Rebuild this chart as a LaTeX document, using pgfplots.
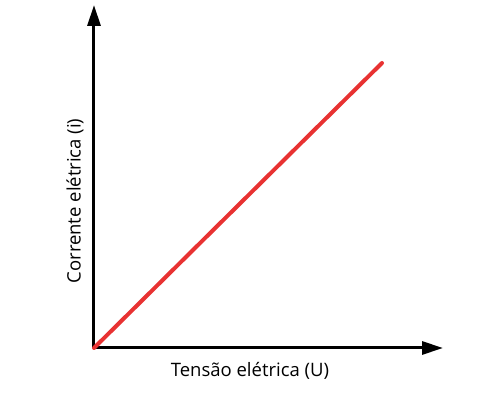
\documentclass[border=0pt]{standalone}
\usepackage{pgfplots}
\pgfplotsset{compat=1.18}
\usetikzlibrary{arrows.meta}
\usepackage{fontspec}
\setmainfont{Open Sans}
\begin{document}
\begin{tikzpicture}
\begin{axis}[
  at={(0,0)}, anchor=south west,
  scale only axis, width=349pt, height=343pt,
  xmin=0, xmax=349, ymin=0, ymax=343,
  axis lines=left,
  axis line style={line width=3pt, -{Triangle[length=21pt,width=13pt]}},
  xtick=\empty, ytick=\empty,
  clip=false,
  xlabel={Tensão elétrica (U)},
  ylabel={Corrente elétrica (i)},
  xlabel style={at={(axis cs:156,-23)}, anchor=center, font=\fontsize{18.5}{21}\selectfont},
  ylabel style={at={(axis cs:-19,147)}, anchor=center, rotate=0, font=\fontsize{18.5}{21}\selectfont},
]
\addplot[color={rgb,255:red,232;green,50;blue,50}, line width=4pt, line cap=round] coordinates {(0,0) (288,285)};
\end{axis}
\pgfresetboundingbox
\path (-94pt,-50pt) rectangle (406pt,348pt);
\end{tikzpicture}
\end{document}
